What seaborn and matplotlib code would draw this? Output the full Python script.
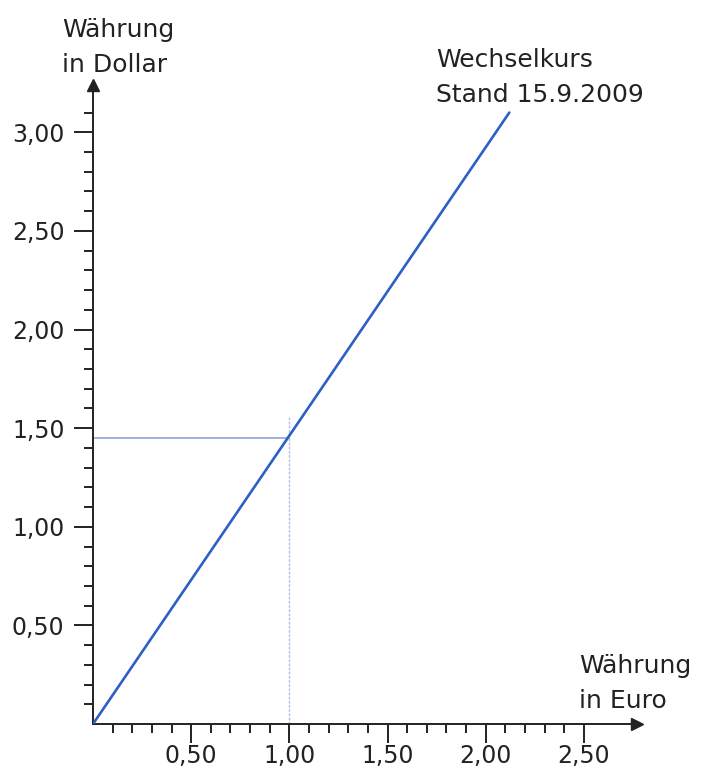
import matplotlib
matplotlib.use("Agg")
import matplotlib.pyplot as plt
import seaborn as sns
import pandas as pd
from matplotlib.ticker import FixedLocator, FuncFormatter

# Wechselkurs 15.9.2009
euro = [0.0, 2.12]
dollar = [0.0, 3.10]
ref_euro = 1.00
ref_dollar = 1.45
ref_top = 1.56

x_major = [0.5, 1.0, 1.5, 2.0, 2.5]
x_minor = [0.1, 0.2, 0.3, 0.4, 0.6, 0.7, 0.8, 0.9, 1.1, 1.2, 1.3, 1.4,
           1.6, 1.7, 1.8, 1.9, 2.1, 2.2, 2.3, 2.4]
y_major = [0.5, 1.0, 1.5, 2.0, 2.5, 3.0]
y_minor = [0.1, 0.2, 0.3, 0.4, 0.6, 0.7, 0.8, 0.9, 1.1, 1.2, 1.3, 1.4,
           1.6, 1.7, 1.8, 1.9, 2.1, 2.2, 2.3, 2.4, 2.6, 2.7, 2.8, 2.9, 3.1]

sns.set_style("ticks")
plt.rcParams['font.family'] = ['DejaVu Sans']

df = pd.DataFrame({"Euro": euro, "Dollar": dollar})

fig = plt.figure(figsize=(7.06, 7.69), dpi=100)
ax = fig.add_axes([0.1317, 0.0585, 0.7705, 0.831])

# Hilfslinien
ax.plot([0, ref_euro], [ref_dollar, ref_dollar], color="#8799dd", lw=1.1, zorder=2)
ax.plot([ref_euro, ref_euro], [0, ref_top], color="#b3c0ea", lw=1.0, ls=(0, (2, 1)), zorder=2)

sns.lineplot(data=df, x="Euro", y="Dollar", ax=ax, color="#2d5fc6", lw=1.9, zorder=3)

ax.set_xlim(0, 2.77)
ax.set_ylim(0, 3.24)
ax.set_xlabel("")
ax.set_ylabel("")

for s in ["top", "right"]:
    ax.spines[s].set_visible(False)
for s in ["left", "bottom"]:
    ax.spines[s].set_linewidth(1.4)
    ax.spines[s].set_color("#222222")

fmt = FuncFormatter(lambda v, p: f"{v:.2f}".replace(".", ","))
ax.xaxis.set_major_locator(FixedLocator(x_major))
ax.xaxis.set_minor_locator(FixedLocator(x_minor))
ax.yaxis.set_major_locator(FixedLocator(y_major))
ax.yaxis.set_minor_locator(FixedLocator(y_minor))
ax.xaxis.set_major_formatter(fmt)
ax.yaxis.set_major_formatter(fmt)

ax.tick_params(which="major", length=14, width=1.4, color="#222222",
               labelsize=17, labelcolor="#222222")
ax.tick_params(which="minor", length=6.5, width=1.4, color="#222222")
ax.tick_params(axis="x", which="major", pad=0.5)
ax.tick_params(axis="y", which="major", pad=6.5)

# Pfeile an den Achsen
ax.plot(1, 0, ">", color="#222222", ms=8, transform=ax.get_yaxis_transform(), clip_on=False)
ax.plot(0, 1, "^", color="#222222", ms=8, transform=ax.get_xaxis_transform(), clip_on=False)

labels = [
    (62, 37, "Währung"), (62, 72, "in Dollar"),
    (436, 67, "Wechselkurs"), (436, 102, "Stand 15.9.2009"),
    (579, 673, "Währung"), (579, 708, "in Euro"),
]
for px, py, txt in labels:
    fig.text(px / 706, 1 - py / 769, txt, fontsize=18, color="#222222", va="baseline")

fig.savefig("out.png", dpi=100)
